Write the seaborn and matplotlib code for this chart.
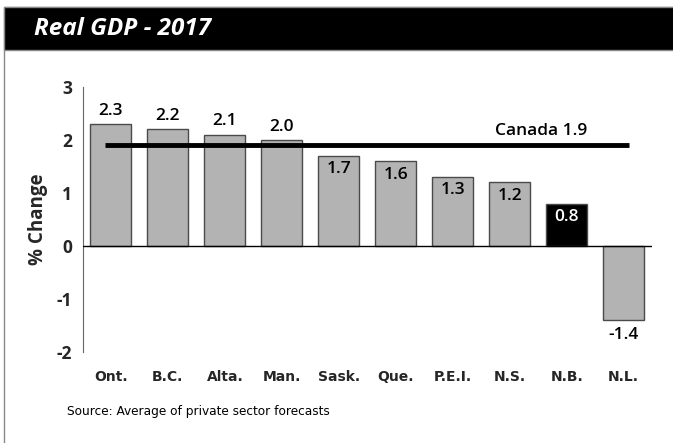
import matplotlib
matplotlib.use("Agg")
import matplotlib.pyplot as plt
from matplotlib.patches import Rectangle
import seaborn as sns
import pandas as pd

provinces = ["Ont.", "B.C.", "Alta.", "Man.", "Sask.", "Que.", "P.E.I.", "N.S.", "N.B.", "N.L."]
growth = [2.3, 2.2, 2.1, 2.0, 1.7, 1.6, 1.3, 1.2, 0.8, -1.4]
highlight = "N.B."
canada = 1.9
yticks = [-2, -1, 0, 1, 2, 3]

sns.set_theme(style="white")
plt.rcParams["font.family"] = ["Open Sans", "DejaVu Sans"]

fig = plt.figure(figsize=(6.73, 4.43), dpi=100)
ax = fig.add_axes([0.1233, 0.2054, 0.8457, 0.5982])

df = pd.DataFrame({"province": provinces, "growth": growth})
palette = {p: ("#000000" if p == highlight else "#b3b3b3") for p in provinces}
sns.barplot(data=df, x="province", y="growth", hue="province", palette=palette,
            legend=False, width=0.72, edgecolor="#4a4a4a", linewidth=1.0,
            saturation=1, ax=ax)

ax.set_xlim(-0.49, 9.5)
ax.set_ylim(-2, 3)
ax.set_yticks(yticks)
ax.set_yticklabels([str(t) for t in yticks], fontsize=12.5, fontweight="bold")
ax.tick_params(axis="y", length=0, pad=8)
ax.tick_params(axis="x", length=0, pad=21)
for lbl in ax.get_xticklabels():
    lbl.set_fontsize(10)
    lbl.set_fontweight("bold")
    lbl.set_fontfamily("DejaVu Sans")
    lbl.set_verticalalignment("baseline")
ax.set_xlabel("")
ax.set_ylabel("% Change", fontsize=13.5, fontweight="bold", labelpad=6)

for side in ["top", "right", "bottom"]:
    ax.spines[side].set_visible(False)
ax.spines["left"].set_color("#666666")
ax.spines["left"].set_linewidth(0.8)
ax.axhline(0, color="black", linewidth=1.0, zorder=3)

# national average line with its label
ax.plot([-0.1, 9.1], [canada, canada], color="black", linewidth=3.5, zorder=4,
        solid_capstyle="butt")
ax.text(7.55, canada + 0.12, f"Canada {canada}", ha="center", va="bottom",
        fontsize=12.5, fontweight="semibold", color="black")

# value labels
for i, (p, v) in enumerate(zip(provinces, growth)):
    if v < 0:
        ax.text(i, v - 0.12, f"{v:.1f}", ha="center", va="top",
                fontsize=12.5, fontweight="semibold", color="black")
    elif v > canada:
        ax.text(i, v + 0.1, f"{v:.1f}", ha="center", va="bottom",
                fontsize=12.5, fontweight="semibold", color="black")
    else:
        ax.text(i, v - 0.1, f"{v:.1f}", ha="center", va="top",
                fontsize=12.5, fontweight="semibold",
                color="white" if p == highlight else "black")

# frame and title banner
fig.patches.append(Rectangle((4 / 673, -0.05), 1.2, 1.05 - 7 / 443,
                             transform=fig.transFigure, fill=False,
                             edgecolor="#888888", linewidth=1.0))
fig.patches.append(Rectangle((4 / 673, (443 - 50) / 443), 1.0, 43 / 443,
                             transform=fig.transFigure, facecolor="black",
                             edgecolor="#888888", linewidth=1.0))
fig.text(34 / 673, (443 - 29) / 443, "Real GDP - 2017", color="white",
         fontsize=17.5, fontweight="bold", fontstyle="italic", va="center", ha="left")

fig.text(67 / 673, (443 - 411) / 443, "Source: Average of private sector forecasts",
         fontsize=9.7, va="center", ha="left", color="black",
         family="DejaVu Sans", fontstretch="condensed")

fig.savefig("out.png", dpi=100)
